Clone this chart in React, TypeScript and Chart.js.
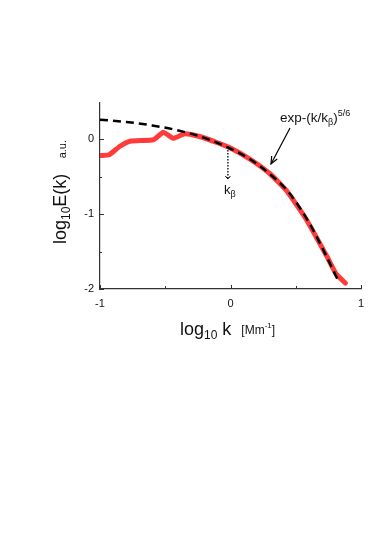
import React, { useEffect, useRef } from "react";
import { Chart, registerables } from "chart.js";

Chart.register(...registerables);

// Measured spectrum (red)
const measuredLogK = [-1.0, -0.93, -0.85, -0.77, -0.59, -0.515, -0.44, -0.35, -0.23, -0.1, 0.0, 0.15, 0.3, 0.43, 0.58, 0.74, 0.81, 0.88];
const measuredLogE = [-0.22, -0.21, -0.1, -0.03, -0.01, 0.09, 0.01, 0.07, 0.03, -0.05, -0.12, -0.27, -0.46, -0.69, -1.07, -1.57, -1.8, -1.92];

// Fit exp-(k/kβ)^{5/6} (dashed black)
const fitLogK = [-1.0, -0.8, -0.6, -0.4, -0.2, 0.0, 0.15, 0.3, 0.45, 0.6, 0.7, 0.82];
const fitLogE = [0.258, 0.227, 0.181, 0.114, 0.015, -0.13, -0.27, -0.465, -0.72, -1.11, -1.44, -1.87];

const xTickValues = [-1, 0, 1];
const yTickValues = [-2, -1, 0];
const xMinorTicks = [-0.5, 0.5];
const yMinorTicks = [-1.5, -0.5];

const FONT = "'Liberation Sans', Arial, sans-serif";

type Part = { t: string; size: number; dy: number };

function drawRich(ctx: CanvasRenderingContext2D, x: number, y: number, parts: Part[]) {
  let cx = x;
  for (const p of parts) {
    ctx.font = `${p.size}px ${FONT}`;
    ctx.fillText(p.t, cx, y + p.dy);
    cx += ctx.measureText(p.t).width;
  }
}

function arrowHead(ctx: CanvasRenderingContext2D, x1: number, y1: number, x2: number, y2: number, len: number, spread: number) {
  const a = Math.atan2(y2 - y1, x2 - x1);
  ctx.beginPath();
  ctx.moveTo(x2 - len * Math.cos(a - spread), y2 - len * Math.sin(a - spread));
  ctx.lineTo(x2, y2);
  ctx.lineTo(x2 - len * Math.cos(a + spread), y2 - len * Math.sin(a + spread));
  ctx.stroke();
}

const decorPlugin = {
  id: "decor",
  afterDraw(chart: any) {
    const ctx: CanvasRenderingContext2D = chart.ctx;
    const xs = chart.scales.x;
    const ys = chart.scales.y;
    const area = chart.chartArea;
    ctx.save();
    ctx.strokeStyle = "#333";
    ctx.lineWidth = 1;
    // inward ticks on x axis
    for (const v of xTickValues.concat(xMinorTicks)) {
      const px = Math.round(xs.getPixelForValue(v)) + 0.5;
      const len = xTickValues.includes(v) ? 4 : 3;
      ctx.beginPath();
      ctx.moveTo(px, area.bottom);
      ctx.lineTo(px, area.bottom - len);
      ctx.stroke();
    }
    for (const v of yTickValues.concat(yMinorTicks)) {
      const py = Math.round(ys.getPixelForValue(v)) + 0.5;
      const len = yTickValues.includes(v) ? 4 : 2;
      ctx.beginPath();
      ctx.moveTo(area.left, py);
      ctx.lineTo(area.left + len, py);
      ctx.stroke();
    }

    ctx.fillStyle = "#111";
    ctx.textAlign = "left";
    ctx.textBaseline = "alphabetic";

    // fit label
    drawRich(ctx, 280, 122, [
      { t: "exp-(k/k", size: 13.5, dy: 0 },
      { t: "β", size: 9, dy: 3 },
      { t: ")", size: 13.5, dy: 0 },
      { t: "5/6", size: 9, dy: -6 },
    ]);

    // solid arrow to the fit curve
    ctx.strokeStyle = "#000";
    ctx.lineWidth = 1.2;
    ctx.beginPath();
    ctx.moveTo(290, 128);
    ctx.lineTo(271, 164);
    ctx.stroke();
    arrowHead(ctx, 290, 128, 271, 164, 8, 0.4);

    // dotted arrow at k_beta
    const kbx = xs.getPixelForValue(-0.02);
    const kby = ys.getPixelForValue(-0.12);
    ctx.lineWidth = 1.3;
    ctx.setLineDash([1.5, 1.5]);
    ctx.beginPath();
    ctx.moveTo(kbx, kby + 2);
    ctx.lineTo(kbx, kby + 30);
    ctx.stroke();
    ctx.setLineDash([]);
    ctx.lineWidth = 1;
    arrowHead(ctx, kbx, kby, kbx, kby + 31, 4, 0.7);

    drawRich(ctx, kbx - 4, kby + 46, [
      { t: "k", size: 13, dy: 0 },
      { t: "β", size: 9, dy: 3 },
    ]);

    // x-axis title
    drawRich(ctx, 180, 335, [
      { t: "log", size: 18, dy: 0 },
      { t: "10", size: 12, dy: 4 },
      { t: " k", size: 18, dy: 0 },
      { t: "   [Mm", size: 12, dy: -1 },
      { t: "-1", size: 8, dy: -7 },
      { t: "]", size: 12, dy: -1 },
    ]);

    // y-axis title (rotated)
    ctx.save();
    ctx.translate(66, 244);
    ctx.rotate(-Math.PI / 2);
    drawRich(ctx, 0, 0, [
      { t: "log", size: 18, dy: 0 },
      { t: "10", size: 12, dy: 4 },
      { t: "E(k)", size: 18, dy: 0 },
      { t: "     a.u.", size: 11, dy: 0 },
    ]);
    ctx.restore();

    ctx.restore();
  },
};

export default function App() {
  const ref = useRef<HTMLCanvasElement | null>(null);
  useEffect(() => {
    if (!ref.current) return;
    const chart = new Chart(ref.current, {
      type: "scatter",
      data: {
        datasets: [
          {
            label: "fit",
            data: fitLogK.map((x, i) => ({ x, y: fitLogE[i] })),
            showLine: true,
            borderColor: "#000",
            borderWidth: 2.5,
            borderDash: [8, 5],
            pointRadius: 0,
            cubicInterpolationMode: "monotone",
            fill: false,
          },
          {
            label: "measured",
            data: measuredLogK.map((x, i) => ({ x, y: measuredLogE[i] })),
            showLine: true,
            borderColor: "#ff3b3b",
            borderWidth: 5,
            pointRadius: 0,
            tension: 0.15,
            borderJoinStyle: "round",
            borderCapStyle: "round",
            fill: false,
          },
        ],
      },
      options: {
        responsive: false,
        animation: false,
        events: [],
        layout: { padding: { left: 70, top: 103, right: 13, bottom: 227 } },
        plugins: { legend: { display: false }, tooltip: { enabled: false } },
        scales: {
          x: {
            type: "linear",
            min: -1,
            max: 1,
            afterFit: (s: any) => { s.height = 20; },
            grid: { display: false, drawTicks: false },
            border: { display: true, color: "#333", width: 1.2 },
            ticks: {
              stepSize: 1,
              includeBounds: false,
              padding: 8,
              color: "#111",
              font: { family: FONT, size: 11 },
              callback: (v: any) => String(v),
            },
          },
          y: {
            type: "linear",
            min: -2,
            max: 0.48,
            afterFit: (s: any) => { s.width = 30; },
            grid: { display: false, drawTicks: false },
            border: { display: true, color: "#333", width: 1.2 },
            ticks: {
              stepSize: 1,
              includeBounds: false,
              padding: 6,
              color: "#111",
              font: { family: FONT, size: 11 },
              callback: (v: any) => String(v),
            },
          },
        },
      },
      plugins: [decorPlugin],
    });
    return () => chart.destroy();
  }, []);
  return (
    <div style={{ position: "absolute", left: 0, top: 0, width: 374, height: 536 }}>
      <canvas ref={ref} width={374} height={536} style={{ display: "block" }} />
    </div>
  );
}
